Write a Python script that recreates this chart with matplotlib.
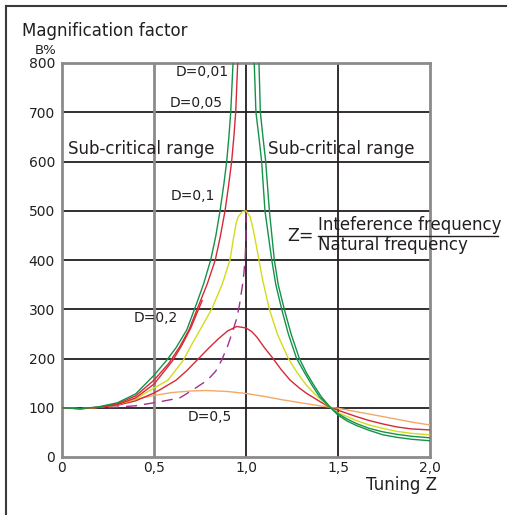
import matplotlib.pyplot as plt
import matplotlib.lines as mlines

plt.rcParams['font.family'] = ['DejaVu Sans']

# values (Z = tuning, B = magnification in %)
green_a_left_z = [0, 0.1, 0.2, 0.3, 0.4, 0.5, 0.57, 0.62, 0.678, 0.73, 0.77, 0.808, 0.835, 0.859,
                  0.88, 0.895, 0.907, 0.917, 0.932]
green_a_left_b = [100, 98, 102, 110, 128, 166, 197, 222, 258, 310, 352, 400, 447, 500,
                  555, 600, 650, 700, 820]
green_a_right_z = [1.069, 1.078, 1.092, 1.107, 1.127, 1.154, 1.175, 1.208, 1.245, 1.29, 1.33, 1.37,
                   1.41, 1.46, 1.5, 1.55, 1.6, 1.67, 1.745, 1.82, 1.9, 2.0]
green_a_right_b = [820, 700, 650, 600, 500, 400, 350, 300, 250, 200, 170, 145,
                   122, 100, 85, 73, 64, 54, 45, 40, 36, 33]

red_b_left_z = [0, 0.1, 0.2, 0.3, 0.4, 0.5, 0.58, 0.64, 0.69, 0.745, 0.79, 0.833, 0.86, 0.886,
                0.905, 0.922, 0.934, 0.944, 0.957]
red_b_left_b = [100, 98, 101, 108, 124, 156, 190, 224, 258, 310, 352, 400, 447, 500,
                550, 600, 650, 700, 820]
green_b_right_z = [1.043, 1.054, 1.07, 1.085, 1.103, 1.14, 1.162, 1.194, 1.23, 1.275, 1.32, 1.36,
                   1.40, 1.46, 1.5, 1.55, 1.6, 1.67, 1.745, 1.82, 1.9, 2.0]
green_b_right_b = [820, 700, 650, 600, 500, 400, 350, 300, 250, 200, 170, 145,
                   122, 100, 88, 77, 68, 58, 51, 46, 42, 39]

red_c_z = [0.2, 0.3, 0.4, 0.5, 0.6, 0.65, 0.7, 0.762]
red_c_b = [101, 106, 120, 148, 195, 226, 262, 318]

yellow_z = [0, 0.1, 0.2, 0.3, 0.4, 0.5, 0.576, 0.66, 0.7, 0.75, 0.813, 0.87, 0.913, 0.93, 0.946,
            0.958, 0.98, 1.0, 1.022, 1.04, 1.067, 1.09, 1.127, 1.17, 1.23, 1.28, 1.33, 1.39,
            1.46, 1.5, 1.6, 1.67, 1.745, 1.82, 1.9, 2.0]
yellow_b = [100, 98, 101, 106, 118, 140, 156, 197, 225, 258, 300, 350, 400, 440, 474,
            488, 498, 500, 488, 461, 407, 360, 300, 250, 200, 170, 145, 122,
            100, 90, 74, 65, 58, 52, 48, 45]

red_d02_z = [0, 0.1, 0.2, 0.3, 0.4, 0.5, 0.53, 0.62, 0.68, 0.74, 0.8, 0.85, 0.9, 0.95, 1.0,
             1.03, 1.058, 1.1, 1.145, 1.19, 1.24, 1.29, 1.33, 1.4, 1.46, 1.5, 1.6, 1.67, 1.745,
             1.82, 1.9, 2.0]
red_d02_b = [100, 98, 101, 105, 114, 130, 136, 156, 176, 199, 222, 240, 256, 265, 262,
             255, 244, 222, 201, 178, 156, 140, 129, 113, 100, 95, 82, 74, 67,
             61, 57, 55]

orange_z = [0, 0.1, 0.2, 0.3, 0.4, 0.5, 0.6, 0.7, 0.78, 0.9, 1.0, 1.1, 1.2, 1.3, 1.4, 1.5,
            1.6, 1.745, 1.9, 2.0]
orange_b = [100, 98, 101, 108, 117, 125, 131, 134, 135, 133, 129, 123, 116, 110, 104, 99,
            92, 82, 71, 65]

purple_z = [0.25, 0.4, 0.53, 0.64, 0.71, 0.79, 0.835, 0.868, 0.9, 0.93, 0.95, 0.965, 0.985,
            0.995, 1.0, 1.0]
purple_b = [100, 104, 112, 120, 136, 156, 174, 197, 225, 258, 282, 310, 359, 400, 450, 498]

y_ticks = [0, 100, 200, 300, 400, 500, 600, 700, 800]
x_ticks = [0, 0.5, 1.0, 1.5, 2.0]
x_labels = ['0', '0,5', '1,0', '1,5', '2,0']

GREEN = '#15924a'
RED = '#d42a36'
YELLOW = '#d3dc1c'
ORANGE = '#f3a867'
PURPLE = '#a2318e'
DARK = '#231f20'
GREY = '#8c8a8a'

fig = plt.figure(figsize=(5.08, 5.15), dpi=100)
ax = fig.add_axes([62 / 508, 58 / 515, 368 / 508, 394 / 515])
ax.set_xlim(0, 2)
ax.set_ylim(0, 800)

# grid
for y in y_ticks[1:-1]:
    ax.axhline(y, color=DARK, lw=1.3, zorder=1)
ax.axvline(0.5, color=GREY, lw=2, zorder=1)
ax.axvline(1.0, color=DARK, lw=1.3, zorder=1)
ax.axvline(1.5, color=DARK, lw=1.3, zorder=1)
for side in ['left', 'right', 'top', 'bottom']:
    ax.spines[side].set_color(GREY)
    ax.spines[side].set_linewidth(2)

lw = 1.0
ax.plot(orange_z, orange_b, color=ORANGE, lw=lw, zorder=3)
ax.plot(purple_z, purple_b, color=PURPLE, lw=lw, dashes=(8, 5), zorder=3)
ax.plot(red_d02_z, red_d02_b, color=RED, lw=lw, zorder=3)
ax.plot(yellow_z, yellow_b, color=YELLOW, lw=lw, zorder=3)
ax.plot(red_c_z, red_c_b, color=RED, lw=lw, zorder=3)
ax.plot(red_b_left_z, red_b_left_b, color=RED, lw=lw, zorder=3)
ax.plot(green_a_left_z, green_a_left_b, color=GREEN, lw=lw, zorder=3)
ax.plot(green_b_right_z, green_b_right_b, color=GREEN, lw=lw, zorder=3)
ax.plot(green_a_right_z, green_a_right_b, color=GREEN, lw=lw, zorder=3)

ax.set_xticks(x_ticks)
ax.set_xticklabels(x_labels)
ax.set_yticks(y_ticks)
ax.tick_params(length=0, labelsize=10, colors=DARK, pad=5)
ax.tick_params(axis='x', pad=3)

# labels on the curves
ax.text(0.905, 782, 'D=0,01', ha='right', va='center', fontsize=10, color=DARK)
ax.text(0.875, 719, 'D=0,05', ha='right', va='center', fontsize=10, color=DARK)
ax.text(0.83, 530, 'D=0,1', ha='right', va='center', fontsize=10, color=DARK)
ax.text(0.63, 282, 'D=0,2', ha='right', va='center', fontsize=10, color=DARK)
ax.text(0.925, 81, 'D=0,5', ha='right', va='center', fontsize=10, color=DARK)
ax.text(0.033, 626, 'Sub-critical range', ha='left', va='center', fontsize=12, color=DARK)
ax.text(1.12, 626, 'Sub-critical range', ha='left', va='center', fontsize=12, color=DARK)

# Z formula
fig.text(300 / 508, 1 - 236 / 515, 'Z=', ha='center', va='center', fontsize=12.5, color=DARK)
fig.text(318 / 508, 1 - 225 / 515, 'Inteference frequency', ha='left', va='center',
         fontsize=12, color=DARK)
fig.text(318 / 508, 1 - 245 / 515, 'Natural frequency', ha='left', va='center',
         fontsize=12, color=DARK)
fig.add_artist(mlines.Line2D([318 / 508, 498 / 508], [1 - 235.5 / 515, 1 - 235.5 / 515],
                             color=DARK, lw=1))

fig.text(22 / 508, 1 - 31 / 515, 'Magnification factor', ha='left', va='center',
         fontsize=12, color=DARK)
fig.text(56 / 508, 1 - 51 / 515, 'B%', ha='right', va='center', fontsize=9.5, color=DARK)
fig.text(437 / 508, 1 - 485 / 515, 'Tuning Z', ha='right', va='center', fontsize=12, color=DARK)

# frame round the picture (top and left)
fig.add_artist(mlines.Line2D([6 / 508, 506 / 508], [1 - 6 / 515, 1 - 6 / 515], color='#3a3a3a', lw=1.5))
fig.add_artist(mlines.Line2D([6 / 508, 6 / 508], [0, 1 - 6 / 515], color='#3a3a3a', lw=1.5))

fig.savefig('out.png', dpi=100)
